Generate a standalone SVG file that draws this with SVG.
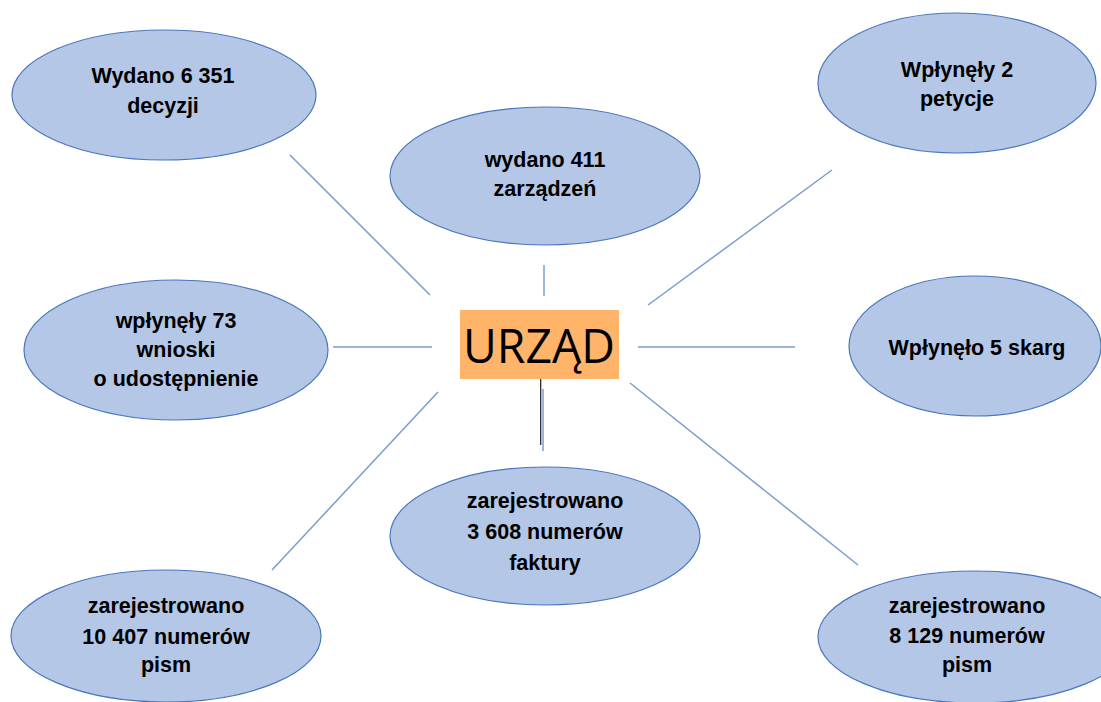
<svg xmlns="http://www.w3.org/2000/svg" width="1101" height="702" viewBox="0 0 1101 702">
<style>
.bub{fill:#b4c7e7;stroke:#4a76be;stroke-width:1.2}
.t{font-family:"Liberation Sans",Arial,sans-serif;font-weight:bold;font-size:21.5px;fill:#000;text-anchor:middle}
.c line{stroke:#7a9ccf;stroke-width:1.5}
</style>
<rect width="1101" height="702" fill="#fff"/>
<g id="connectors" class="c">
<line x1="290" y1="155" x2="430" y2="295"/>
<line x1="544" y1="265" x2="544" y2="296"/>
<line x1="832" y1="170" x2="648" y2="305"/>
<line x1="333" y1="347" x2="432" y2="347"/>
<line x1="638" y1="347" x2="795" y2="347"/>
<line x1="438" y1="392" x2="272" y2="570"/>
<line x1="543" y1="389" x2="543" y2="451"/>
<line x1="630" y1="383" x2="858" y2="565"/>
<line x1="540.7" y1="379" x2="540.7" y2="445" style="stroke:#1a1a1a;stroke-width:1.2"/>
</g>
<g id="n-urzad">
<rect x="460" y="310" width="159" height="69" fill="#ffb469"/>
<text x="539" y="363" font-family="'Open Sans','Liberation Sans',sans-serif" font-size="47" text-anchor="middle" textLength="152" lengthAdjust="spacingAndGlyphs">URZĄD</text>
</g>
<g id="n-decyzje">
<ellipse class="bub" cx="164" cy="95" rx="152" ry="65"/>
<text class="t" x="163" y="83">Wydano 6 351</text>
<text class="t" x="163" y="113">decyzji</text>
</g>
<g id="n-zarzadzenia">
<ellipse class="bub" cx="545" cy="176" rx="155" ry="69"/>
<text class="t" x="545" y="167">wydano 411</text>
<text class="t" x="545" y="196">zarządzeń</text>
</g>
<g id="n-petycje">
<ellipse class="bub" cx="957" cy="83" rx="139" ry="70"/>
<text class="t" x="957" y="77">Wpłynęły 2</text>
<text class="t" x="957" y="106">petycje</text>
</g>
<g id="n-wnioski">
<ellipse class="bub" cx="176" cy="350" rx="152" ry="70"/>
<text class="t" x="176" y="328">wpłynęły 73</text>
<text class="t" x="176" y="357">wnioski</text>
<text class="t" x="176" y="386">o udostępnienie</text>
</g>
<g id="n-skargi">
<ellipse class="bub" cx="975" cy="346" rx="126" ry="70"/>
<text class="t" x="977" y="355">Wpłynęło 5 skarg</text>
</g>
<g id="n-faktury">
<ellipse class="bub" cx="545" cy="536" rx="155" ry="69"/>
<text class="t" x="545" y="508">zarejestrowano</text>
<text class="t" x="545" y="539">3 608 numerów</text>
<text class="t" x="545" y="570">faktury</text>
</g>
<g id="n-pisma1">
<ellipse class="bub" cx="166" cy="636" rx="155" ry="66"/>
<text class="t" x="166" y="613">zarejestrowano</text>
<text class="t" x="166" y="644">10 407 numerów</text>
<text class="t" x="166" y="672">pism</text>
</g>
<g id="n-pisma2">
<ellipse class="bub" cx="975" cy="637" rx="157" ry="66"/>
<text class="t" x="967" y="613">zarejestrowano</text>
<text class="t" x="967" y="643">8 129 numerów</text>
<text class="t" x="967" y="672">pism</text>
</g>
</svg>
